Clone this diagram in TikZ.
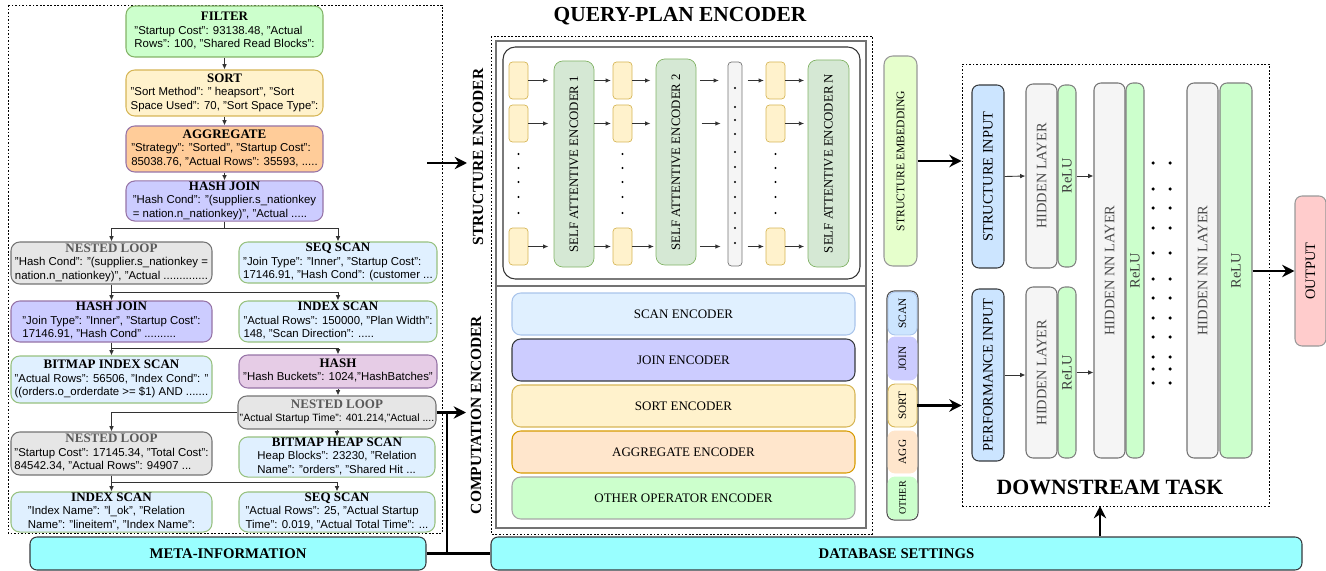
\documentclass[tikz,border=0pt]{standalone}
\usepackage{fontspec}
\setmainfont{Liberation Serif}
\setsansfont{Liberation Sans}
\usepackage{graphicx}
\usetikzlibrary{arrows.meta}

\definecolor{filterfill}{HTML}{CCFFCC}
\definecolor{greenline}{HTML}{82B366}
\definecolor{sortfill}{HTML}{FFF2CC}
\definecolor{sortline}{HTML}{D6B656}
\definecolor{aggfill}{HTML}{FFCC99}
\definecolor{aggencfill}{HTML}{FFE6CC}
\definecolor{aggline}{HTML}{D79B00}
\definecolor{purpleline}{HTML}{9673A6}
\definecolor{joinfill}{HTML}{CCCCFF}
\definecolor{loopfill}{HTML}{E6E6E6}
\definecolor{scanfill}{HTML}{E0F0FF}
\definecolor{scanline}{HTML}{97C17F}
\definecolor{scanencline}{HTML}{A9C4EB}
\definecolor{hashfill}{HTML}{E6CCE6}
\definecolor{metafill}{HTML}{99FFFF}
\definecolor{darkline}{HTML}{36393D}
\definecolor{saefill}{HTML}{D5E8D4}
\definecolor{greyfill}{HTML}{F5F5F5}
\definecolor{embfill}{HTML}{E6FFCC}
\definecolor{inputfill}{HTML}{CCE5FF}
\definecolor{outfill}{HTML}{FFCCCC}

% operator box text: bold title over left aligned attribute lines
\newcommand{\opname}[2]{\begin{tabular}{@{}l@{}}\multicolumn{1}{@{}c@{}}{\rmfamily\bfseries\fontsize{7.4}{7.6}\selectfont #1}\\#2\end{tabular}}

\tikzset{
  wh/.style 2 args={minimum width=#1*0.02cm, minimum height=#2*0.02cm},
  plan/.style={draw, line width=0.6pt, rounded corners=5pt, inner xsep=1pt, inner ysep=0pt,
    font=\sffamily\fontsize{6.5}{7.6}\selectfont},
  link/.style={draw=black!80, line width=0.5pt, -{Latex[length=3pt,width=2.6pt]}},
  small/.style={draw=black!80, line width=0.5pt, -{Latex[length=3pt,width=2.6pt]}},
  bigarrow/.style={line width=1.6pt, -{Stealth[length=7pt,width=7pt]}},
  bigline/.style={line width=1.6pt},
  dotframe/.style={draw, line width=0.4pt, dash pattern=on 1pt off 1pt},
  token/.style={draw=sortline, fill=sortfill, rounded corners=2pt, inner sep=0pt, wh={19}{37}},
  sae/.style={draw=greenline, fill=saefill, rounded corners=5pt, inner sep=0pt, wh={40}{206},
    font=\fontsize{7.3}{9}\selectfont},
  enc/.style={rounded corners=5pt, line width=0.6pt, inner sep=0pt, wh={343}{42},
    font=\fontsize{7.4}{9}\selectfont},
  opseg/.style={rounded corners=4pt, line width=0.5pt, inner sep=0pt, wh={29}{42},
    font=\fontsize{6.4}{8}\selectfont},
  layer/.style={rounded corners=4pt, line width=0.6pt, inner sep=0pt, font=\fontsize{8.2}{10}\selectfont},
  banner/.style={draw=darkline, fill=metafill, line width=0.6pt, rounded corners=4pt, inner sep=0pt,
    font=\bfseries\fontsize{8.4}{10}\selectfont},
}

\begin{document}
\begin{tikzpicture}[x=0.02cm, y=-0.02cm]
\useasboundingbox (0,0) rectangle (1326,571);

% query plan tree
\draw[dotframe] (8,5) rectangle (442,533);
\node[plan, fill=filterfill, draw=greenline, wh={197}{51}] (filter) at (224.5,31.5)
  {\opname{FILTER}{"Startup Cost": 93138.48, "Actual\\Rows": 100, "Shared Read Blocks":}};
\node[plan, fill=sortfill, draw=sortline, wh={197}{46}] (sort) at (224.5,93)
  {\opname{SORT}{"Sort Method": " heapsort", "Sort\\Space Used": 70, "Sort Space Type":}};
\node[plan, fill=aggfill, draw=purpleline, wh={197}{46}] (agg) at (224.5,149)
  {\opname{AGGREGATE}{"Strategy": "Sorted", "Startup Cost":\\85038.76, "Actual Rows": 35593, .....}};
\node[plan, fill=joinfill, draw=purpleline, wh={197}{40}] (hj) at (224.5,201)
  {\opname{HASH JOIN}{"Hash Cond": "(supplier.s\_nationkey\\= nation.n\_nationkey)", "Actual .....}};
\node[plan, fill=loopfill, draw=black!55, wh={201}{42}] (nl) at (111.5,263)
  {\opname{\color{black!65}NESTED LOOP}{"Hash Cond": "(supplier.s\_nationkey =\\nation.n\_nationkey)", "Actual ..............}};
\node[plan, fill=scanfill, draw=scanline, wh={198}{41}] (seq) at (338,262.5)
  {\opname{SEQ SCAN}{"Join Type": "Inner", "Startup Cost":\\17146.91, "Hash Cond": (customer ...}};
\node[plan, fill=joinfill, draw=purpleline, wh={201}{41}] (hj2) at (111.5,321.5)
  {\opname{HASH JOIN}{"Join Type": "Inner", "Startup Cost":\\17146.91, "Hash Cond" ..........}};
\node[plan, fill=scanfill, draw=scanline, wh={198}{41}] (idx) at (338,321.5)
  {\opname{INDEX SCAN}{"Actual Rows": 150000, "Plan Width":\\148, "Scan Direction": .....}};
\node[plan, fill=scanfill, draw=scanline, wh={201}{47}] (bis) at (111.5,379.5)
  {\opname{BITMAP INDEX SCAN}{"Actual Rows": 56506, "Index Cond": "\\((orders.o\_orderdate >= \$1) AND .......}};
\node[plan, fill=hashfill, draw=purpleline, wh={198}{33}] (hash) at (338,371.5)
  {\opname{HASH}{"Hash Buckets": 1024,"HashBatches"}};
\node[plan, fill=loopfill, draw=black!55, wh={196}{33}, font=\sffamily\fontsize{6}{7.6}\selectfont] (nlr) at (337,412.5)
  {\opname{\color{black!65}NESTED LOOP}{"Actual Startup Time": 401.214,"Actual ....}};
\node[plan, fill=loopfill, draw=black!55, wh={201}{43}] (nll) at (111.5,453.5)
  {\opname{\color{black!65}NESTED LOOP}{"Startup Cost": 17145.34, "Total Cost":\\84542.34, "Actual Rows": 94907 ...}};
\node[plan, fill=scanfill, draw=scanline, wh={196}{40}] (bhs) at (337,457)
  {\opname{BITMAP HEAP SCAN}{Heap Blocks": 23230, "Relation\\Name": "orders", "Shared Hit ...}};
\node[plan, fill=scanfill, draw=scanline, wh={201}{40}] (isl) at (111.5,512)
  {\opname{INDEX SCAN}{"Index Name": "l\_ok", "Relation\\Name": "lineitem", "Index Name":}};
\node[plan, fill=scanfill, draw=scanline, wh={196}{40}] (seqr) at (337,512)
  {\opname{SEQ SCAN}{"Actual Rows": 25, "Actual Startup\\Time": 0.019, "Actual Total Time": ...}};

\draw[link] (filter) -- (sort);
\draw[link] (sort) -- (agg);
\draw[link] (agg) -- (hj);
\draw[link] (hj.south) -- ++(0,7) -| (nl.north);
\draw[link] (hj.south) -- ++(0,7) -| (seq.north);
\draw[link] (nl.south) -- ++(0,8) -| (hj2.north);
\draw[link] (nl.south) -- ++(0,8) -| (idx.north);
\draw[link] (hj2.south) -- ++(0,6) -| (bis.north);
\draw[link] (hj2.south) -- ++(0,6) -| (hash.north);
\draw[link] (hash.south) -- (hash.south |- nlr.north);
\draw[link] (nlr.west) -| (nll.north);
\draw[link] (nlr.south) -- (nlr.south |- bhs.north);
\draw[link] (nll.south) -- ++(0,7) -| (isl.north);
\draw[link] (nll.south) -- ++(0,7) -| (seqr.north);

% query-plan encoder
\node[font=\bfseries\fontsize{12.2}{14}\selectfont] (qptitle) at (680,16) {QUERY-PLAN ENCODER};
\draw[dotframe] (491,36) rectangle (872,534);
\draw[draw=black!55, line width=0.8pt] (496,41) rectangle (866,528);
\draw[draw=black!55, line width=0.8pt] (496,286) -- (866,286);
\node[font=\bfseries\fontsize{8.8}{10}\selectfont, inner sep=0pt] (selabel) at (478,157) {\rotatebox{90}{STRUCTURE ENCODER}};
\node[font=\bfseries\fontsize{8.8}{10}\selectfont, inner sep=0pt] (celabel) at (476,415) {\rotatebox{90}{COMPUTATION ENCODER}};
\draw[draw=black!80, line width=0.6pt, rounded corners=7pt] (503,47) rectangle (860,279);

\node[token] (c1a) at (518.5,80.5) {};
\node[token] (c1b) at (518.5,123.5) {};
\node[token] (c1c) at (518.5,246.5) {};
\node[token] (c2a) at (622.5,80.5) {};
\node[token] (c2b) at (622.5,123.5) {};
\node[token] (c2c) at (622.5,246.5) {};
\node[token] (c3a) at (775.5,80.5) {};
\node[token] (c3b) at (775.5,123.5) {};
\node[token] (c3c) at (775.5,246.5) {};
\node[sae] (sae1) at (574,164) {\rotatebox{90}{SELF ATTENTIVE ENCODER 1}};
\node[sae] (sae2) at (676,162) {\rotatebox{90}{SELF ATTENTIVE ENCODER 2}};
\node[sae, wh={41}{207}] (saen) at (828.5,163.5) {\rotatebox{90}{SELF ATTENTIVE ENCODER N}};
\node[draw=black!55, fill=greyfill, rounded corners=2pt, inner sep=0pt, wh={14}{204}] (gap) at (735,164) {};

\fill (518.5,154) circle (0.7pt) (518.5,168) circle (0.7pt) (518.5,182) circle (0.7pt) (518.5,197) circle (0.7pt) (518.5,213) circle (0.7pt);
\fill (622.5,154) circle (0.7pt) (622.5,168) circle (0.7pt) (622.5,182) circle (0.7pt) (622.5,197) circle (0.7pt) (622.5,213) circle (0.7pt);
\fill (775.5,154) circle (0.7pt) (775.5,168) circle (0.7pt) (775.5,182) circle (0.7pt) (775.5,197) circle (0.7pt) (775.5,213) circle (0.7pt);
\fill (735,88) circle (0.6pt) (735,107) circle (0.6pt) (735,120) circle (0.6pt) (735,134) circle (0.6pt)
  (735,152) circle (0.6pt) (735,167) circle (0.6pt) (735,182) circle (0.6pt) (735,197) circle (0.6pt)
  (735,213) circle (0.6pt) (735,228) circle (0.6pt) (735,243) circle (0.6pt);

% first row
\draw[small, shorten >=3pt] (c1a.east) -- (sae1.west |- c1a);
\draw[small, shorten >=1pt] (sae1.east |- c2a) -- (c2a.west);
\draw[small, shorten >=3pt] (c2a.east) -- (sae2.west |- c2a);
\draw[small, shorten <=2pt, shorten >=5pt] (sae2.east |- c2a) -- (gap.west |- c2a);
\draw[small, shorten <=3pt, shorten >=1pt] (gap.east |- c3a) -- (c3a.west);
\draw[small, shorten >=2pt] (c3a.east) -- (saen.west |- c3a);
% second row
\draw[small, shorten >=3pt] (c1b.east) -- (sae1.west |- c1b);
\draw[small, shorten >=1pt] (sae1.east |- c2b) -- (c2b.west);
\draw[small, shorten >=3pt] (c2b.east) -- (sae2.west |- c2b);
\draw[small, shorten <=3pt, shorten >=4pt] (sae2.east |- c2b) -- (gap.west |- c2b);
\draw[small, shorten >=2pt] (c3b.east) -- (saen.west |- c3b);
% last row
\draw[small, shorten >=3pt] (c1c.east) -- (sae1.west |- c1c);
\draw[small, shorten >=1pt] (sae1.east |- c2c) -- (c2c.west);
\draw[small, shorten >=1pt] (c2c.east) -- (sae2.west |- c2c);
\draw[small, shorten <=2pt, shorten >=4pt] (sae2.east |- c2c) -- (gap.west |- c2c);
\draw[small, shorten <=3pt, shorten >=1pt] (gap.east |- c3c) -- (c3c.west);
\draw[small, shorten >=2pt] (c3c.east) -- (saen.west |- c3c);

\node[enc, fill=scanfill, draw=scanencline] (scanenc) at (683.5,314) {SCAN ENCODER};
\node[enc, fill=joinfill, draw=darkline] (joinenc) at (683.5,360) {JOIN ENCODER};
\node[enc, fill=sortfill, draw=sortline] (sortenc) at (683.5,406) {SORT ENCODER};
\node[enc, fill=aggencfill, draw=aggline] (aggenc) at (683.5,452) {AGGREGATE ENCODER};
\node[enc, fill=filterfill, draw=black!35] (otherenc) at (683.5,498) {OTHER OPERATOR ENCODER};

% embeddings
\node[draw=black!40, fill=embfill, rounded corners=5pt, line width=0.6pt, inner sep=0pt, wh={33}{210},
  font=\fontsize{6.6}{8}\selectfont] (semb) at (900.5,161) {\rotatebox{90}{STRUCTURE EMBEDDING}};
\node[draw=black!70, rounded corners=4pt, line width=0.6pt, inner sep=0pt, wh={31}{229}] (opstack) at (902.5,405.5) {};
\node[opseg, fill=inputfill, draw=scanencline, wh={29}{43}] (opscan) at (902.5,313.5) {\rotatebox{90}{SCAN}};
\node[opseg, fill=joinfill, draw=joinfill, wh={29}{43}] (opjoin) at (902.5,358.5) {\rotatebox{90}{JOIN}};
\node[opseg, fill=sortfill, draw=sortline, wh={29}{43}] (opsort) at (902.5,405.5) {\rotatebox{90}{SORT}};
\node[opseg, fill=aggencfill, draw=aggencfill] (opagg) at (902.5,452) {\rotatebox{90}{AGG}};
\node[opseg, fill=filterfill, draw=filterfill, font=\fontsize{5.7}{7}\selectfont] (opother) at (902.5,498) {\rotatebox{90}{OTHER}};

% downstream task
\node[dotframe, wh={307}{442}] (ds) at (1115.5,285) {};
\node[font=\bfseries\fontsize{12.4}{14}\selectfont] (dstitle) at (1110,487) {DOWNSTREAM TASK};
\node[layer, draw=darkline, fill=inputfill, wh={32}{183}] (sin) at (988,176.5) {\rotatebox{90}{STRUCTURE INPUT}};
\node[layer, draw=darkline, fill=inputfill, wh={32}{172}] (pin) at (988,375) {\rotatebox{90}{PERFORMANCE INPUT}};
\node[layer, draw=black!55, fill=greyfill, text=black!70, wh={31}{184}] (hl1) at (1041.5,176) {\rotatebox{90}{HIDDEN LAYER}};
\node[layer, draw=black!50, fill=filterfill, text=black!75, wh={18}{182}] (relu1) at (1067,176) {\rotatebox{90}{ReLU}};
\node[layer, draw=black!55, fill=greyfill, text=black!70, wh={31}{171}] (hl2) at (1041.5,372.5) {\rotatebox{90}{HIDDEN LAYER}};
\node[layer, draw=black!50, fill=filterfill, text=black!75, wh={18}{171}] (relu2) at (1067,372.5) {\rotatebox{90}{ReLU}};
\node[layer, draw=black!55, fill=greyfill, text=black!70, wh={31}{375}] (hnn1) at (1109.5,270.5) {\rotatebox{90}{HIDDEN NN LAYER}};
\node[layer, draw=black!50, fill=filterfill, text=black!75, wh={18}{375}] (relua) at (1135,270.5) {\rotatebox{90}{ReLU}};
\node[layer, draw=black!55, fill=greyfill, text=black!70, wh={31}{375}] (hnn2) at (1202.5,270.5) {\rotatebox{90}{HIDDEN NN LAYER}};
\node[layer, draw=black!50, fill=filterfill, text=black!75, wh={32}{375}] (relub) at (1236,270.5) {\rotatebox{90}{ReLU}};
\node[layer, draw=black!40, fill=outfill, wh={31}{150}] (output) at (1310.5,271) {\rotatebox{90}{OUTPUT}};

\fill (1153,163) circle (1pt) (1170,163) circle (1pt) (1153,189) circle (1pt) (1170,189) circle (1pt);
\fill (1153,208) circle (1pt) (1170,208) circle (1pt) (1153,228) circle (1pt) (1170,228) circle (1pt);
\fill (1153,253) circle (1pt) (1170,253) circle (1pt) (1153,279) circle (1pt) (1170,279) circle (1pt);
\fill (1153,298) circle (1pt) (1170,298) circle (1pt) (1153,318) circle (1pt) (1170,318) circle (1pt);
\fill (1153,337) circle (1pt) (1170,337) circle (1pt) (1153,357) circle (1pt) (1170,357) circle (1pt);
\fill (1153,369) circle (1pt) (1170,369) circle (1pt) (1153,383) circle (1pt) (1170,383) circle (1pt);

\draw[small] (sin.east) -- (hl1.west);
\draw[small] (relu1.east) -- (relu1.east -| hnn1.west);
\draw[small] (pin.east) -- (pin.east -| hl2.west);
\draw[small] (relu2.east) -- (relu2.east -| hnn1.west);

% settings banners and thick links
\node[banner, wh={396}{33}] (meta) at (228,553.5) {META-INFORMATION};
\node[banner, wh={811}{33}] (db) at (896.5,553.5) {DATABASE SETTINGS};

\coordinate (planout) at (427,163);
\coordinate (structin) at (467,163);
\coordinate (metajoin) at (447,412.5);
\coordinate (compin) at (466,412.5);
\coordinate (dsin) at (1100,506);
\draw[bigarrow] (planout) -- (structin);
\draw[bigarrow] (nlr.east) -- (compin);
\draw[bigline] (meta.east) -- (db.west);
\draw[bigline] (metajoin) -- (metajoin |- meta.east);
\draw[bigarrow] (semb.east) -- (semb.east -| ds.west);
\draw[bigarrow] (opsort.east) -- (opsort.east -| ds.west);
\draw[bigarrow] (relub.east |- output.west) -- (output.west);
\draw[bigarrow] (db.north -| dsin) -- (dsin);
\end{tikzpicture}
\end{document}
